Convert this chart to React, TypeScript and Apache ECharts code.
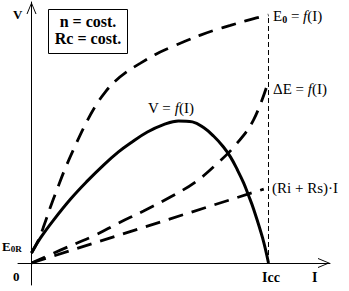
import React, { useEffect, useRef } from 'react';
import * as echarts from 'echarts';

// Current I (Icc = 100) and voltages (E0 at Icc = 100), arbitrary units
const E0_I = [0, 2.95, 5.49, 8.0, 11.0, 14.3, 18.6, 22.8, 27.0, 31.2, 35.4, 39.7, 46.0, 52.3, 58.6, 65.0, 71.3, 77.6, 83.9, 90.3, 94.9, 100];
const E0_V = [4.03, 9.27, 15.7, 22.6, 30.2, 38.3, 47.6, 56.0, 63.3, 69.0, 73.4, 76.8, 80.6, 84.1, 86.9, 89.5, 91.9, 94.0, 95.8, 97.6, 98.8, 100];

const V_I = [0, 3.8, 9.3, 16.5, 23.6, 30.4, 36.7, 41.8, 48.9, 55.7, 62.0, 67.9, 72.6, 76.8, 81.0, 84.0, 86.9, 89.5, 91.6, 93.7, 97.5, 100];
const V_V = [4.03, 10.1, 17.3, 25.8, 33.1, 39.5, 44.8, 48.4, 52.8, 55.8, 57.3, 56.9, 54.6, 51.2, 46.8, 42.7, 37.5, 32.3, 27.2, 21.8, 10.1, 0];

const DE_I = [0, 12.2, 27.0, 36.7, 47.3, 58.6, 69.2, 78.1, 86.5, 93.7, 99.6];
const DE_V = [0, 5.2, 11.3, 16.1, 21.0, 26.6, 32.7, 39.9, 48.0, 57.7, 72.2];

const R_I = [0, 98];
const R_V = [0, 29.8];

const ICC_I = [100, 100];
const ICC_V = [0, 100];

const pairs = (xs: number[], ys: number[]) => xs.map((x, i) => [x, ys[i]]);

const SERIF = '"Liberation Serif", "DejaVu Serif", serif';
const ARROW = 'path://M5,0 L10,12 L9,12 L5,2.2 L1,12 L0,12 Z';

export default function App() {
  const ref = useRef<HTMLDivElement>(null);
  useEffect(() => {
    document.body.style.margin = '0';
    const chart = echarts.init(ref.current!, null, { renderer: 'svg' });
    const axisLine = {
      show: true,
      onZero: true,
      symbol: ['none', ARROW],
      symbolSize: [10, 12],
      symbolOffset: [0, -6],
      lineStyle: { color: '#000', width: 1 },
    };
    const fnRich = {
      n: { fontSize: 15, fontFamily: SERIF, lineHeight: 16, color: '#000' },
      i: { fontSize: 15, fontFamily: SERIF, fontStyle: 'italic', lineHeight: 16, color: '#000' },
      s: { fontSize: 10, fontFamily: SERIF, fontWeight: 'bold', lineHeight: 10, padding: [6, 0, 0, 0], color: '#000' },
      b: { fontSize: 13, fontFamily: SERIF, fontWeight: 'bold', lineHeight: 16, color: '#000' },
      bs: { fontSize: 9, fontFamily: SERIF, fontWeight: 'bold', lineHeight: 10, padding: [6, 0, 0, 0], color: '#000' },
    };
    const txt = (x: number, y: number, text: string, extra: any = {}) => ({
      type: 'text',
      x,
      y,
      style: {
        text,
        fill: '#000',
        fontFamily: SERIF,
        fontSize: 15,
        verticalAlign: 'middle',
        align: 'left',
        rich: fnRich,
        ...extra,
      },
    });
    const dashed = (w: number, dash: number[]) => ({ color: '#000', width: w, type: dash });
    chart.setOption({
      animation: false,
      backgroundColor: '#fff',
      grid: { left: 18, right: 19, top: 2, bottom: 6 },
      xAxis: {
        type: 'value',
        min: -5.696,
        max: 125.95,
        axisLine,
        axisTick: { show: false },
        axisLabel: { show: false },
        splitLine: { show: false },
      },
      yAxis: {
        type: 'value',
        min: -8.87,
        max: 105.24,
        axisLine,
        axisTick: { show: false },
        axisLabel: { show: false },
        splitLine: { show: false },
      },
      series: [
        {
          name: 'E0',
          type: 'line',
          data: pairs(E0_I, E0_V),
          smooth: 0.4,
          symbol: 'none',
          lineStyle: dashed(2.8, [15, 9]),
        },
        {
          name: 'V',
          type: 'line',
          data: pairs(V_I, V_V),
          smooth: 0.4,
          symbol: 'none',
          lineStyle: { color: '#000', width: 3 },
        },
        {
          name: 'dE',
          type: 'line',
          data: pairs(DE_I, DE_V),
          smooth: 0.4,
          symbol: 'none',
          lineStyle: dashed(2.8, [15, 9]),
        },
        {
          name: 'R',
          type: 'line',
          data: pairs(R_I, R_V),
          symbol: 'none',
          lineStyle: dashed(2.8, [15, 9]),
        },
        {
          name: 'Icc',
          type: 'line',
          data: pairs(ICC_I, ICC_V),
          symbol: 'none',
          lineStyle: dashed(1, [5, 3]),
        },
      ],
      graphic: [
        {
          type: 'rect',
          shape: { x: 48.5, y: 9.5, width: 79, height: 44 },
          style: { fill: '#fff', stroke: '#000', lineWidth: 1 },
        },
        txt(88, 21, 'n = cost.', { align: 'center', fontWeight: 'bold', fontSize: 16, rich: undefined }),
        txt(88, 38, 'Rc = cost.', { align: 'center', fontWeight: 'bold', fontSize: 16, rich: undefined }),
        txt(13, 14, 'V', { fontWeight: 'bold', fontSize: 13, rich: undefined }),
        txt(273, 16, '{n|E}{s|0}{n| = }{i|f}{n|(I)}'),
        txt(273, 89, '{n|ΔE = }{i|f}{n|(I)}'),
        txt(148, 108, '{n|V = }{i|f}{n|(I)}'),
        txt(272, 188, '(Ri + Rs)·I', { rich: undefined }),
        txt(2, 246, '{b|E}{bs|0R}'),
        txt(13, 276, '0', { fontWeight: 'bold', fontSize: 13, rich: undefined }),
        txt(262, 277, 'Icc', { fontWeight: 'bold', fontSize: 14, rich: undefined }),
        txt(312, 277, 'I', { fontWeight: 'bold', fontSize: 14, rich: undefined }),
      ],
    });
    return () => chart.dispose();
  }, []);
  return <div ref={ref} style={{ width: 349, height: 291 }} />;
}
